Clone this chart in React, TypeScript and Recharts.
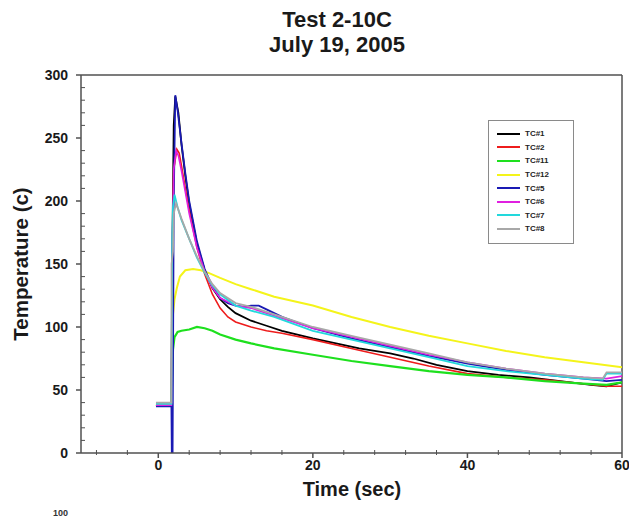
import React from 'react';
import { LineChart, Line, XAxis, YAxis, ReferenceLine, Legend } from 'recharts';

// thermocouple readings (time in sec, temperature in C)
const tc1Time = [-0.3, 1.7, 1.8, 2.0, 2.2, 2.6, 3, 3.5, 4, 5, 6, 7, 8, 9, 10, 12, 14, 16, 18, 20, 23, 26, 30, 33, 36, 40, 44, 48, 52, 56, 58, 60];
const tc1Temp = [38, 38, 150, 260, 283, 270, 245, 220, 198, 166, 145, 131, 122, 116, 111, 105, 101, 97, 94, 91, 87, 83, 79, 75, 70, 65, 62, 60, 57, 54, 53, 56];

const tc2Time = [-0.3, 1.7, 1.8, 2.0, 2.4, 2.7, 3, 3.5, 4, 5, 6, 7, 8, 9, 10, 12, 14, 16, 20, 25, 30, 35, 40, 45, 50, 55, 58, 60];
const tc2Temp = [38, 38, 150, 225, 241, 238, 228, 210, 193, 163, 142, 126, 115, 108, 104, 100, 97, 95, 90, 83, 76, 69, 63, 60, 58, 55, 53, 53];

const tc11Time = [-0.3, 1.7, 1.8, 1.9, 2.1, 2.5, 3, 4, 5, 6, 7, 8, 10, 12, 15, 20, 25, 30, 35, 40, 45, 50, 55, 58, 60];
const tc11Temp = [38, 38, 60, 82, 92, 96, 97, 98, 100, 99, 97, 94, 90, 87, 83, 78, 73, 69, 65, 62, 60, 57, 55, 54, 56];

const tc12Time = [-0.3, 1.7, 1.8, 1.9, 2.1, 2.4, 2.8, 3.5, 4.5, 5.5, 6.5, 8, 10, 12, 15, 20, 25, 30, 35, 40, 45, 50, 55, 60];
const tc12Temp = [38, 38, 80, 110, 122, 131, 140, 145, 146, 145, 143, 139, 134, 130, 124, 117, 108, 100, 93, 87, 81, 76, 72, 68];

const tc5Time = [-0.3, 1.7, 1.75, 1.85, 2.0, 2.2, 2.5, 3, 3.5, 4, 5, 6, 7, 8, 9, 10, 11, 12, 13, 14, 16, 20, 25, 30, 35, 40, 45, 50, 55, 58, 60];
const tc5Temp = [37, 37, 0, 0, 200, 284, 272, 246, 222, 200, 168, 146, 132, 123, 119, 117, 116, 117, 117, 114, 108, 99, 91, 84, 77, 71, 66, 62, 59, 57, 58];

const tc6Time = [-0.3, 1.7, 1.8, 2.0, 2.3, 2.6, 3, 3.5, 4, 5, 6, 7, 8, 10, 12, 14, 16, 20, 25, 30, 35, 40, 45, 50, 55, 58, 60];
const tc6Temp = [38, 38, 160, 225, 240, 236, 224, 207, 190, 163, 144, 131, 123, 117, 115, 111, 107, 99, 92, 85, 78, 72, 67, 63, 60, 59, 61];

const tc7Time = [-0.3, 1.7, 1.8, 1.9, 2.1, 2.5, 3, 4, 5, 6, 7, 8, 10, 12, 15, 20, 25, 30, 35, 40, 45, 50, 55, 57.5, 58, 60];
const tc7Temp = [39, 39, 170, 195, 205, 195, 185, 170, 155, 143, 133, 126, 117, 113, 108, 97, 90, 83, 76, 69, 65, 62, 59, 58, 63, 63];

const tc8Time = [-0.3, 1.7, 1.72, 1.9, 2.0, 2.3, 3, 4, 5, 6, 7, 8, 10, 12, 15, 20, 25, 30, 35, 40, 45, 50, 55, 57.5, 58, 60];
const tc8Temp = [40, 40, 150, 160, 190, 198, 186, 170, 156, 144, 134, 127, 119, 116, 110, 100, 93, 86, 79, 72, 67, 63, 60, 59, 64, 64];

const xTicks = [-8, -4, 0, 4, 8, 12, 16, 20, 24, 28, 32, 36, 40, 44, 48, 52, 56, 60];
const yTicks = [0, 10, 20, 30, 40, 50, 60, 70, 80, 90, 100, 110, 120, 130, 140, 150, 160, 170, 180, 190, 200, 210, 220, 230, 240, 250, 260, 270, 280, 290, 300];

const toPoints = (time: number[], temp: number[]) => time.map((t, i) => ({ t, v: temp[i] }));

const series = [
  { name: 'TC#1', color: '#000000', width: 1.8, data: toPoints(tc1Time, tc1Temp) },
  { name: 'TC#2', color: '#ee1c1c', width: 1.6, data: toPoints(tc2Time, tc2Temp) },
  { name: 'TC#11', color: '#1ee01e', width: 2.2, data: toPoints(tc11Time, tc11Temp) },
  { name: 'TC#12', color: '#f4f41a', width: 2, data: toPoints(tc12Time, tc12Temp) },
  { name: 'TC#5', color: '#1a1ab4', width: 1.8, data: toPoints(tc5Time, tc5Temp) },
  { name: 'TC#6', color: '#e020e0', width: 1.6, data: toPoints(tc6Time, tc6Temp) },
  { name: 'TC#7', color: '#22d8dc', width: 1.8, data: toPoints(tc7Time, tc7Temp) },
  { name: 'TC#8', color: '#a8a8a8', width: 1.8, data: toPoints(tc8Time, tc8Temp) },
];

const AXIS = '#505050';
const FONT = 'Arial, "Liberation Sans", sans-serif';

const XTick = ({ x, y, payload }: any) => {
  const major = payload.value % 20 === 0;
  return (
    <g>
      {major ? (
        <line x1={x} x2={x} y1={y} y2={y + 5} stroke={AXIS} strokeWidth={1.5} />
      ) : (
        <line x1={x} x2={x} y1={y - 3} y2={y + 2} stroke={AXIS} strokeWidth={1} />
      )}
      {major && (
        <text x={x} y={y + 17} textAnchor="middle" fontSize={14} fontWeight="bold" fill="#1a1a1a" fontFamily={FONT}>
          {payload.value}
        </text>
      )}
    </g>
  );
};

const YTick = ({ x, y, payload }: any) => {
  const major = payload.value % 50 === 0;
  return (
    <g>
      {major ? (
        <line x1={x - 5} x2={x} y1={y} y2={y} stroke={AXIS} strokeWidth={1.5} />
      ) : (
        <line x1={x} x2={x + 4} y1={y} y2={y} stroke={AXIS} strokeWidth={1} />
      )}
      {major && (
        <text x={x - 13} y={y + 5} textAnchor="end" fontSize={14} fontWeight="bold" fill="#1a1a1a" fontFamily={FONT}>
          {payload.value}
        </text>
      )}
    </g>
  );
};

// keep the legend in the series order, not sorted by name
const LegendBox = () => (
  <div
    style={{
      border: '1px solid #8a8a8a',
      width: 86,
      height: 124,
      boxSizing: 'border-box',
      padding: '6px 0 0 8px',
      background: '#fff',
      fontFamily: FONT,
    }}
  >
    {series.map((s) => (
      <div key={s.name} style={{ display: 'flex', alignItems: 'center', height: 13.6 }}>
        <span style={{ display: 'inline-block', width: 23, height: 2, background: s.color, marginRight: 5 }} />
        <span style={{ fontSize: 8, fontWeight: 'bold', color: '#222' }}>{s.name}</span>
      </div>
    ))}
  </div>
);

const App = () => {
  return (
    <div style={{ position: 'absolute', left: 0, top: 0, width: 629, height: 523, overflow: 'hidden', background: '#fff', fontFamily: FONT }}>
      <div style={{ position: 'absolute', left: 0, width: 674, top: 7, textAlign: 'center', fontSize: 22, fontWeight: 'bold', lineHeight: '25px', color: '#1a1a1a' }}>
        Test 2-10C
        <br />
        July 19, 2005
      </div>
      <div
        style={{
          position: 'absolute',
          left: 21,
          top: 264,
          transform: 'translate(-50%, -50%) rotate(-90deg)',
          whiteSpace: 'nowrap',
          fontSize: 20.5,
          lineHeight: '24px',
          fontWeight: 'bold',
          color: '#1a1a1a',
        }}
      >
        Temperature (c)
      </div>
      <div style={{ position: 'absolute', left: 0, width: 704, top: 478, textAlign: 'center', fontSize: 20, lineHeight: '23px', fontWeight: 'bold', color: '#1a1a1a' }}>
        Time (sec)
      </div>
      <div style={{ position: 'absolute', left: 53, top: 508, fontSize: 9, lineHeight: '11px', fontWeight: 'bold', color: '#333' }}>100</div>
      <LineChart width={629} height={523} margin={{ top: 75, right: 7, left: 0, bottom: 0 }} style={{ position: 'absolute', left: 0, top: 0 }}>
        <XAxis
          type="number"
          dataKey="t"
          domain={[-10, 60]}
          ticks={xTicks}
          allowDataOverflow
          height={70}
          tickSize={0}
          tickMargin={0}
          tickLine={false}
          tick={<XTick />}
          axisLine={{ stroke: AXIS, strokeWidth: 1.5 }}
          interval={0}
        />
        <YAxis
          type="number"
          domain={[0, 300]}
          ticks={yTicks}
          allowDataOverflow
          width={81}
          tickSize={0}
          tickMargin={0}
          tickLine={false}
          tick={<YTick />}
          axisLine={{ stroke: AXIS, strokeWidth: 1.5 }}
          interval={0}
        />
        <ReferenceLine y={300} stroke={AXIS} strokeWidth={1.5} />
        <ReferenceLine x={60} stroke={AXIS} strokeWidth={1.5} />
        {series.map((s) => (
          <Line
            key={s.name}
            data={s.data}
            dataKey="v"
            name={s.name}
            type="linear"
            stroke={s.color}
            strokeWidth={s.width}
            dot={false}
            isAnimationActive={false}
          />
        ))}
        <Legend
          layout="vertical"
          align="center"
          verticalAlign="middle"
          content={<LegendBox />}
          wrapperStyle={{ position: 'absolute', left: 488, top: 120, width: 86 }}
        />
      </LineChart>
    </div>
  );
};

export default App;
